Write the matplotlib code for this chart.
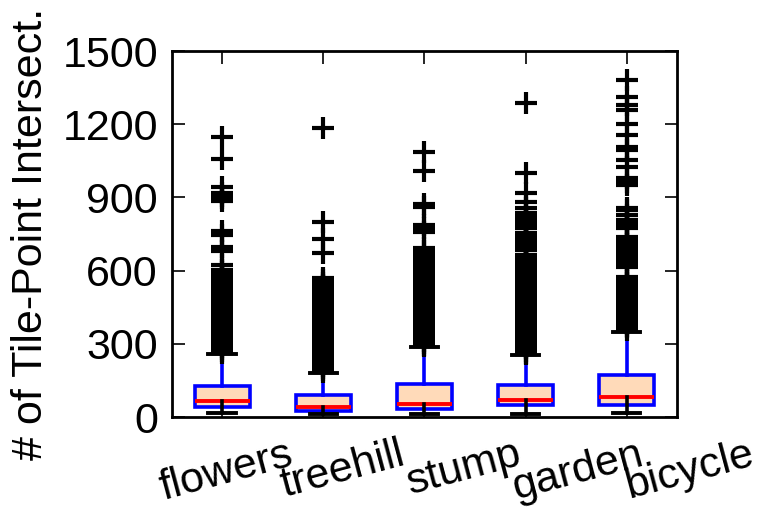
import matplotlib
matplotlib.use("Agg")
import matplotlib.pyplot as plt

categories = ["flowers", "treehill", "stump", "garden", "bicycle"]
whislo = [15, 14, 14, 14, 15]
q1 = [40, 24, 31, 48, 50]
med = [64, 40, 52, 69, 80]
q3 = [128, 91, 134, 132, 171]
whishi = [257, 182, 288, 254, 350]

fliers_flowers = [1149, 1056, 944, 920, 905, 897, 884, 762, 746, 698, 680, 623,
                  602, 594, 585, 577, 569, 561, 552, 544, 536, 528, 520, 512, 503, 495,
                  487, 479, 471, 463, 455, 447, 439, 431, 423, 415, 407, 399, 391, 383,
                  375, 367, 359, 351, 343, 335, 327, 319, 311, 303, 295, 287, 279, 271, 263]
fliers_treehill = [1186, 800, 728, 673, 568, 560, 551, 543, 535, 526, 518, 510, 501, 493,
                   485, 476, 468, 460, 451, 443, 435, 426, 418, 410, 401, 393, 385, 376,
                   368, 360, 351, 343, 335, 326, 318, 310, 301, 293, 285, 276, 268, 260,
                   251, 243, 235, 226, 218, 210, 201, 193, 186]
fliers_stump = [1087, 1009, 875, 862, 787, 773, 760, 692, 680, 667, 655, 643,
                630, 622, 613, 605, 597, 588, 580, 572, 563, 555, 547, 538, 530, 522,
                513, 505, 497, 488, 480, 472, 463, 455, 447, 438, 430, 422, 413, 405,
                397, 388, 380, 372, 363, 355, 347, 338, 330, 322, 313, 305, 297, 292]
fliers_garden = [1286, 999, 917, 882, 855, 836, 826, 816, 806, 796, 786, 776, 754,
                 744, 734, 724, 714, 704, 694, 684, 664, 656, 647, 639, 631, 622,
                 614, 606, 597, 589, 581, 572, 564, 556, 547, 539, 531, 522, 514, 506,
                 497, 489, 481, 472, 464, 456, 447, 439, 431, 422, 414, 406, 397, 389,
                 381, 372, 364, 356, 347, 339, 331, 322, 314, 306, 297, 289, 281, 272,
                 264, 258]
fliers_bicycle = [1381, 1313, 1279, 1258, 1203, 1156, 1108, 1094, 1053, 1026, 978, 965,
                  951, 855, 848, 830, 807, 795, 785, 775, 739, 729, 719, 709, 699, 689,
                  677, 667, 657, 643, 630, 616, 575, 567, 558, 550, 542, 533, 525, 517,
                  508, 500, 492, 483, 475, 467, 458, 450, 442, 433, 425, 417, 408, 400,
                  392, 383, 375, 367, 358]
fliers = [fliers_flowers, fliers_treehill, fliers_stump, fliers_garden, fliers_bicycle]

yticks = [0, 300, 600, 900, 1200, 1500]
label_shift_px = [4, 19, 40, 52, 63]

plt.rcParams['font.family'] = ['Liberation Sans', 'DejaVu Sans']

fig = plt.figure(figsize=(7.81, 5.21), dpi=100)
ax = fig.add_axes([0.220, 0.1996, 0.647, 0.7024])

stats = []
for i, name in enumerate(categories):
    stats.append(dict(label=name, whislo=whislo[i], q1=q1[i], med=med[i],
                      q3=q3[i], whishi=whishi[i], fliers=fliers[i]))

positions = list(range(1, len(categories) + 1))
bp = ax.bxp(stats, positions=positions, widths=0.55,
            patch_artist=True,
            boxprops=dict(facecolor='peachpuff', edgecolor='blue', linewidth=2.6),
            medianprops=dict(color='red', linewidth=2.8),
            whiskerprops=dict(color='blue', linewidth=2.6, linestyle='-'),
            capprops=dict(color='black', linewidth=2.8),
            flierprops=dict(marker='+', markersize=16, markeredgewidth=3.0,
                            markeredgecolor='black', linestyle='none'))

# lower whiskers are drawn in black over the box from the median
for i, w in enumerate(bp['whiskers'][0::2]):
    w.set_color('black')
    w.set_ydata([med[i], whislo[i]])
    w.set_zorder(3)

ax.set_xlim(0.5, 5.5)
ax.set_ylim(0, 1500)
ax.set_yticks(yticks)
ax.set_yticklabels([str(v) for v in yticks], fontsize=31)
ax.set_xticks(positions)
ax.set_xticklabels([])
for pos, name, dx in zip(positions, categories, label_shift_px):
    ax.annotate(name, xy=(pos, 0), xycoords=('data', 'axes fraction'),
                xytext=(dx * 0.72, -12.6), textcoords='offset points',
                ha='center', va='top', rotation=15, fontsize=31,
                annotation_clip=False)
ax.set_ylabel("# of Tile-Point Intersect.", fontsize=31, labelpad=8)

ax.tick_params(axis='both', direction='in', length=9, width=1.2, top=True, right=True)
ax.tick_params(axis='y', pad=10)
for s in ax.spines.values():
    s.set_linewidth(2.0)

fig.savefig("out.png", dpi=100)
